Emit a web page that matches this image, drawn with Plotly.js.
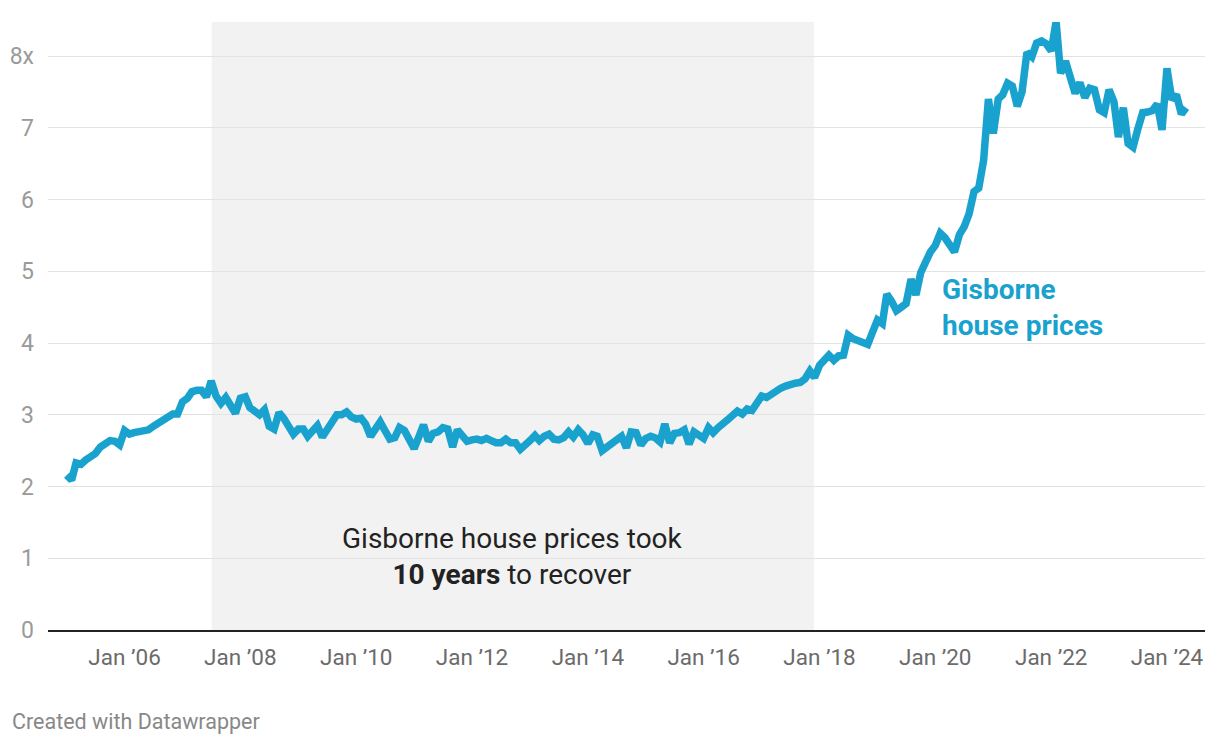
<!DOCTYPE html>
<html>
<head>
<meta charset="utf-8">
<script src="https://cdn.plot.ly/plotly-3.0.1.min.js"></script>
<style>
html,body{margin:0;padding:0;background:#fff;}
#chart{width:1220px;height:746px;}
</style>
</head>
<body>
<div id="chart"></div>
<script>
// Monthly series, first month Jan 2005
const startYear = 2005;
const price2005 = [2.16, 2.09, 2.33, 2.31, 2.37, 2.42, 2.46, 2.55, 2.59, 2.64, 2.63, 2.58];
const price2006 = [2.78, 2.73, 2.75, 2.76, 2.76, 2.79, 2.84, 2.88, 2.95, 2.98, 3.01, 3.01];
const price2007 = [3.18, 3.23, 3.32, 3.34, 3.34, 3.25, 3.47, 3.26, 3.16, 3.24, 3.15, 3.02];
const price2008 = [3.23, 3.25, 3.10, 3.05, 3.00, 3.07, 2.84, 2.80, 3.03, 2.95, 2.83, 2.73];
const price2009 = [2.80, 2.80, 2.70, 2.77, 2.85, 2.69, 2.80, 2.90, 3.00, 3.00, 3.04, 2.97];
const price2010 = [2.94, 2.95, 2.87, 2.70, 2.80, 2.90, 2.78, 2.66, 2.68, 2.82, 2.78, 2.65];
const price2011 = [2.53, 2.70, 2.86, 2.63, 2.74, 2.76, 2.82, 2.80, 2.55, 2.79, 2.71, 2.63];
const price2012 = [2.65, 2.66, 2.64, 2.67, 2.64, 2.61, 2.61, 2.66, 2.61, 2.61, 2.52, 2.57];
const price2013 = [2.64, 2.71, 2.64, 2.70, 2.73, 2.66, 2.65, 2.68, 2.76, 2.69, 2.79, 2.72];
const price2014 = [2.60, 2.72, 2.70, 2.50, 2.55, 2.60, 2.65, 2.70, 2.54, 2.76, 2.75, 2.58];
const price2015 = [2.67, 2.70, 2.68, 2.62, 2.87, 2.61, 2.74, 2.75, 2.79, 2.59, 2.76, 2.72];
const price2016 = [2.67, 2.82, 2.75, 2.82, 2.89, 2.93, 2.99, 3.05, 3.01, 3.08, 3.06, 3.15];
const price2017 = [3.26, 3.24, 3.29, 3.32, 3.37, 3.40, 3.43, 3.44, 3.45, 3.50, 3.61, 3.52];
const price2018 = [3.69, 3.75, 3.83, 3.76, 3.82, 3.83, 4.11, 4.06, 4.03, 3.99, 3.98, 4.15];
const price2019 = [4.32, 4.27, 4.68, 4.58, 4.45, 4.50, 4.55, 4.89, 4.67, 4.98, 5.15, 5.27];
const price2020 = [5.36, 5.53, 5.47, 5.37, 5.27, 5.51, 5.62, 5.80, 6.11, 6.16, 6.55, 7.40];
const price2021 = [6.92, 7.40, 7.46, 7.62, 7.58, 7.30, 7.50, 8.05, 7.99, 8.18, 8.21, 8.17];
const price2022 = [8.07, 8.48, 7.76, 7.93, 7.67, 7.48, 7.63, 7.42, 7.55, 7.53, 7.25, 7.21];
const price2023 = [7.53, 7.36, 6.87, 7.28, 6.78, 6.73, 6.98, 7.21, 7.22, 7.24, 7.33, 6.97];
const price2024 = [7.83, 7.39, 7.46, 7.19, 7.28];

const yearly = [price2005, price2006, price2007, price2008, price2009, price2010, price2011,
  price2012, price2013, price2014, price2015, price2016, price2017, price2018, price2019,
  price2020, price2021, price2022, price2023, price2024];

const xTickVals = ['2006-01-01','2008-01-01','2010-01-01','2012-01-01','2014-01-01','2016-01-01','2018-01-01','2020-01-01','2022-01-01','2024-01-01'];
const xTickText = ['Jan \u201906','Jan \u201908','Jan \u201910','Jan \u201912','Jan \u201914','Jan \u201916','Jan \u201918','Jan \u201920','Jan \u201922','Jan \u201924'];
const yTickVals = [0,1,2,3,4,5,6,7,8];
const yTickText = ['0','1','2','3','4','5','6','7','8x'];

const recoveryStart = '2007-07-04';
const recoveryEnd = '2017-11-27';

const dates = [], values = [];
yearly.forEach((arr, yi) => {
  arr.forEach((v, mi) => {
    const y = startYear + yi;
    dates.push(y + '-' + String(mi + 1).padStart(2, '0') + '-01');
    values.push(v);
  });
});

const blue = '#1aa2cf';
const font = 'Roboto, "DejaVu Sans", sans-serif';

const trace = {
  x: dates, y: values, type: 'scatter', mode: 'lines',
  line: {color: blue, width: 7.5, shape: 'linear'},
  hoverinfo: 'x+y'
};

const layout = {
  width: 1220, height: 746,
  margin: {l: 48, r: 15, t: 22, b: 116},
  paper_bgcolor: '#fff', plot_bgcolor: '#fff',
  font: {family: font},
  showlegend: false,
  xaxis: {
    type: 'date',
    range: ['2004-09-05', '2024-08-28'],
    tickvals: xTickVals, ticktext: xTickText,
    showgrid: false, zeroline: false,
    showline: true, linecolor: '#222', linewidth: 2,
    ticks: '', ticklabelstandoff: 6,
    tickfont: {family: font, size: 22.5, color: '#6b6b6b'}
  },
  yaxis: {
    range: [0, 8.474],
    tickvals: yTickVals, ticktext: yTickText,
    showgrid: true, gridcolor: '#e3e3e3', gridwidth: 1,
    zeroline: false, showline: false,
    ticks: '', ticklabelstandoff: 13,
    tickfont: {family: font, size: 23, color: '#9a9a9a'}
  },
  shapes: [{
    type: 'rect', layer: 'below',
    xref: 'x', yref: 'paper',
    x0: recoveryStart, x1: recoveryEnd, y0: 0, y1: 1,
    fillcolor: '#f2f2f2', line: {width: 0}
  }],
  annotations: [
    {
      xref: 'x', yref: 'y', x: '2012-09-15', y: 1.03,
      text: 'Gisborne house prices took<br><b>10 years</b> to recover',
      showarrow: false, xanchor: 'center', yanchor: 'middle', align: 'center',
      font: {family: font, size: 28, color: '#222'}
    },
    {
      xref: 'x', yref: 'y', x: '2020-02-01', y: 4.49,
      text: '<b>Gisborne<br>house prices</b>',
      showarrow: false, xanchor: 'left', yanchor: 'middle', align: 'left',
      font: {family: font, size: 28, color: blue}
    },
    {
      xref: 'paper', yref: 'paper', x: -0.0325, y: -0.1497,
      text: 'Created with Datawrapper',
      showarrow: false, xanchor: 'left', yanchor: 'middle', align: 'left',
      font: {family: font, size: 21.5, color: '#888'}
    }
  ]
};

Plotly.newPlot('chart', [trace], layout, {displayModeBar: false, staticPlot: true});
</script>
</body>
</html>
